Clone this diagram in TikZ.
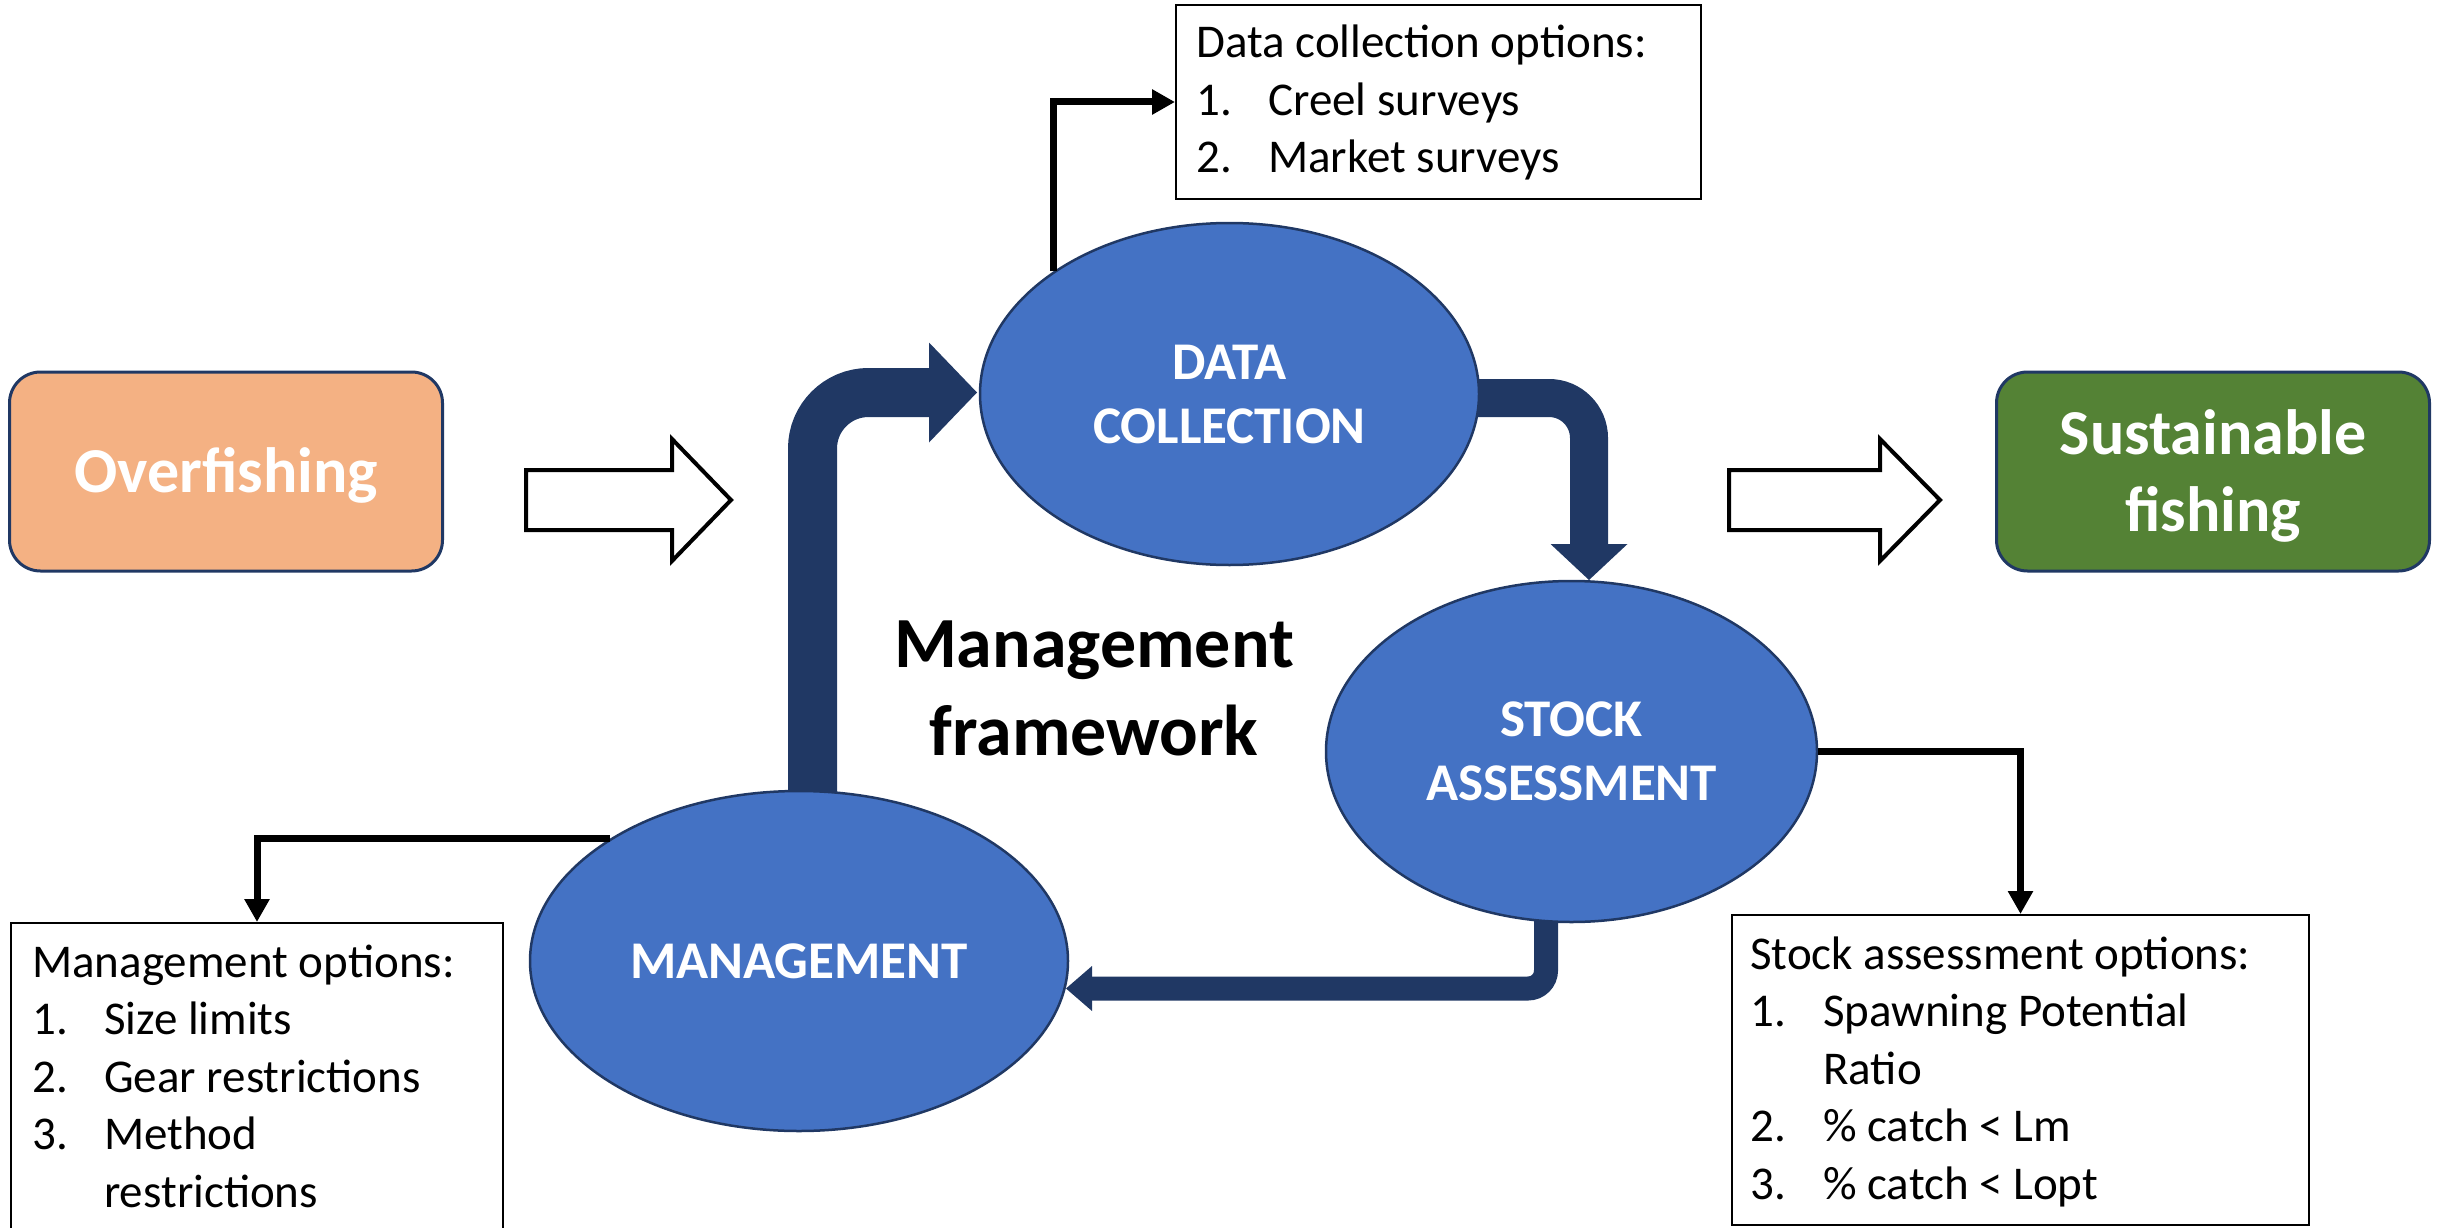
\documentclass[tikz,border=0pt]{standalone}
\usepackage{fontspec}
\setmainfont{Carlito}
\usetikzlibrary{arrows.meta,calc,shapes.geometric}
\definecolor{ellfill}{HTML}{4472C4}
\definecolor{navy}{HTML}{203864}
\definecolor{orangefill}{HTML}{F4B183}
\definecolor{greenfill}{HTML}{548235}
\begin{document}
\begin{tikzpicture}[x=1pt,y=-1pt,
  stage/.style={ellipse, draw=navy, line width=2.5pt, fill=ellfill, text=white,
    font=\fontsize{53}{64}\selectfont\bfseries, align=center, inner sep=0pt},
  endbox/.style={rectangle, rounded corners=31pt, draw=navy, line width=3pt, text=white,
    font=\fontsize{64}{77}\selectfont\bfseries, align=center,
    minimum width=433pt, minimum height=199pt, inner sep=0pt},
  optbox/.style={rectangle, draw=black, line width=2pt, inner sep=0pt, anchor=north west},
  opttext/.style={anchor=base west, inner sep=0pt, font=\fontsize{47}{57.5}\selectfont},
  conn/.style={line width=7pt, -{Triangle[length=23pt,width=24pt]}},
  hollow/.style={draw=black, line width=4pt, fill=white, line join=miter},
  bentshaft/.style={draw=navy, line width=#1},
  bentshaft/.default=40pt
]
\useasboundingbox (0,0) rectangle (2445,1228);

% start/end boxes
\node[endbox, fill=orangefill, text height=42pt, text depth=0pt] (over) at (226,471.5) {Overfishing};
\node[endbox, fill=greenfill, text height=119pt, text depth=0pt] (sust) at (2213,471.5) {Sustainable\\fishing};

% hollow arrows
\draw[hollow] (526,470) -- (672,470) -- (672,439) -- (731,500) -- (672,561) -- (672,530) -- (526,530) -- cycle;
\draw[hollow] (1729,470) -- (1880,470) -- (1880,439) -- (1940,500) -- (1880,561) -- (1880,530) -- (1729,530) -- cycle;

% bent navy arrows (drawn below ellipses)
\coordinate (lstart) at (812.5,800);
\coordinate (lbend) at (812.5,392.5);
\coordinate (lend) at (930,392.5);
\draw[bentshaft=49pt, rounded corners=56pt] (lstart) -- (lbend) -- (lend);
\fill[navy] (929,342.5) -- (977,392.5) -- (929,442.5) -- cycle;

\coordinate (rstart) at (1478,398);
\coordinate (rbend) at (1589,398);
\coordinate (rend) at (1589,545);
\draw[bentshaft=38pt, rounded corners=40pt] (rstart) -- (rbend) -- (rend);
\fill[navy] (1550.5,544) -- (1589,580) -- (1627.5,544) -- cycle;

\coordinate (bstart) at (1546,880);
\coordinate (bbend) at (1546,988.5);
\coordinate (bend) at (1091,988.5);
\draw[bentshaft=24pt, rounded corners=18pt] (bstart) -- (bbend) -- (bend);
\fill[navy] (1092,966) -- (1066,988.5) -- (1092,1011) -- cycle;

% stages
\node[stage, minimum width=499pt, minimum height=342pt] (dc) at (1229.5,394) {DATA\\COLLECTION};
\node[stage, minimum width=491pt, minimum height=341pt] (sa) at (1571.5,751.5) {STOCK\\ASSESSMENT};
\node[stage, minimum width=538pt, minimum height=340pt] (mg) at (799,961) {MANAGEMENT};

% central title (base = baseline of last line)
\node[font=\fontsize{72}{88}\selectfont\bfseries, align=center, anchor=base, inner sep=0pt] (mf) at (1094,755) {Management\\framework};

% option boxes
\node[optbox, minimum width=525pt, minimum height=194pt] (dcbox) at (1175,4) {};
\node[opttext] (dctext) at (1196,58) {\parbox[t]{500pt}{Data collection options:\\
\makebox[72pt][l]{1.}Creel surveys\\
\makebox[72pt][l]{2.}Market surveys}};

\node[optbox, minimum width=492pt, minimum height=330pt] (mgbox) at (10,922) {};
\node[opttext] (mgtext) at (32,977) {\parbox[t]{470pt}{Management options:\\
\makebox[72pt][l]{1.}Size limits\\
\makebox[72pt][l]{2.}Gear restrictions\\
\makebox[72pt][l]{3.}Method\\
\hspace*{72pt}restrictions}};

\node[optbox, minimum width=577pt, minimum height=310pt] (sabox) at (1731,914) {};
\node[opttext] (satext) at (1750,969) {\parbox[t]{550pt}{Stock assessment options:\\
\makebox[73pt][l]{1.}Spawning Potential\\
\hspace*{73pt}Ratio\\
\makebox[73pt][l]{2.}\% catch < Lm\\
\makebox[73pt][l]{3.}\% catch < Lopt}};

% connectors to option boxes
\draw[conn] (dc.145.6) |- (dcbox.west);
\draw[conn] (mg.147.4) -| (mgbox.north);
\draw[conn] (sa.east) -| (sabox.north);
\end{tikzpicture}
\end{document}
